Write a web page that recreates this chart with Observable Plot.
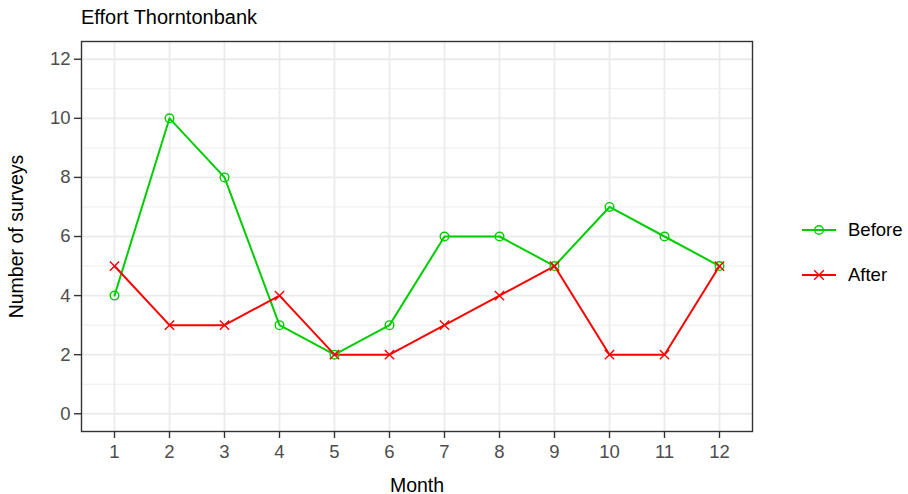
<!DOCTYPE html>
<html>
<head>
<meta charset="utf-8">
<script src="https://cdn.jsdelivr.net/npm/d3@7"></script>
<script src="https://cdn.jsdelivr.net/npm/@observablehq/plot@0.6"></script>
<style>
  html, body { margin: 0; padding: 0; background: #fff; }
  body { font-family: "Liberation Sans", Arial, sans-serif; }
  #wrap { position: relative; width: 908px; height: 494px; overflow: hidden; }
  #title { position: absolute; left: 81px; top: 7px; font-size: 20px; line-height: 20px; color: #000; white-space: nowrap; }
  #legend { position: absolute; left: 800px; top: 208px; }
  .lg-row { display: flex; align-items: center; height: 44.5px; }
  .lg-row svg { display: block; }
  .lg-label { font-size: 18.5px; color: #000; margin-left: 10px; line-height: 20px; }
</style>
</head>
<body>
<div id="wrap">
  <div id="chart"></div>
  <div id="title"></div>
  <div id="legend"></div>
</div>
<script>
// ---- data ----
const titleText = "Effort Thorntonbank";
const xTitle = "Month";
const yTitle = "Number of surveys";
const months = [1, 2, 3, 4, 5, 6, 7, 8, 9, 10, 11, 12];
const before = [4, 10, 8, 3, 2, 3, 6, 6, 5, 7, 6, 5];
const after  = [5, 3, 3, 4, 2, 2, 3, 4, 5, 2, 2, 5];
const seriesNames = ["Before", "After"];
const seriesColors = ["#00CD00", "#FF0000"];
const seriesSymbols = ["circle", "times"];
const yMajorTicks = [0, 2, 4, 6, 8, 10, 12];
const yMinorTicks = [1, 3, 5, 7, 9, 11];

// ---- table ----
const rows = [
  ...months.map((m, i) => ({month: m, value: before[i], series: "Before"})),
  ...months.map((m, i) => ({month: m, value: after[i], series: "After"}))
];

const grid = "#EBEBEB";
const dark = "#333333";
const tickText = "#4D4D4D";

const chart = Plot.plot({
  width: 908,
  height: 494,
  marginLeft: 81,
  marginRight: 156,
  marginTop: 41,
  marginBottom: 63,
  style: {fontFamily: "Liberation Sans, Arial, sans-serif", fontSize: "18px", background: "white", color: tickText},
  x: {domain: [0.4, 12.6]},
  y: {domain: [-0.6, 12.6]},
  color: {domain: seriesNames, range: seriesColors},
  symbol: {domain: seriesNames, range: seriesSymbols},
  marks: [
    Plot.gridY(yMinorTicks, {stroke: grid, strokeOpacity: 1, strokeWidth: 0.9}),
    Plot.gridY(yMajorTicks, {stroke: grid, strokeOpacity: 1, strokeWidth: 1.8}),
    Plot.gridX(months, {stroke: grid, strokeOpacity: 1, strokeWidth: 1.8}),
    Plot.line(rows, {x: "month", y: "value", z: "series", stroke: "series", strokeWidth: 2}),
    Plot.dot(rows, {x: "month", y: "value", stroke: "series", symbol: "series", r: 4.3, strokeWidth: 1.4, fill: "none"}),
    Plot.frame({stroke: dark, strokeWidth: 1.4}),
    Plot.axisY(yMajorTicks, {tickSize: 7, tickPadding: 4, stroke: dark, strokeWidth: 1.4, fill: tickText, fontSize: 18.5, label: null}),
    Plot.axisX(months, {tickSize: 7, tickPadding: 6, stroke: dark, strokeWidth: 1.4, fill: tickText, fontSize: 18.5, label: null}),
    Plot.axisY([], {label: yTitle, labelAnchor: "center", labelArrow: "none", labelOffset: 72, fill: "#000", fontSize: 19.5, tickSize: 0}),
    Plot.axisX([], {label: xTitle, labelAnchor: "center", labelArrow: "none", labelOffset: 60, fill: "#000", fontSize: 19.5, tickSize: 0})
  ]
});
document.getElementById("chart").appendChild(chart);
document.getElementById("title").textContent = titleText;

// ---- legend ----
const legend = document.getElementById("legend");
seriesNames.forEach((name, i) => {
  const row = document.createElement("div");
  row.className = "lg-row";
  const color = seriesColors[i];
  const sym = seriesSymbols[i] === "circle"
    ? `<circle cx="19" cy="11" r="4.3" fill="none" stroke="${color}" stroke-width="1.4"/>`
    : `<path d="M14.2,6.2L23.8,15.8M14.2,15.8L23.8,6.2" stroke="${color}" stroke-width="1.4"/>`;
  row.innerHTML = `<svg width="38" height="22"><line x1="2" y1="11" x2="36" y2="11" stroke="${color}" stroke-width="2"/>${sym}</svg><span class="lg-label">${name}</span>`;
  legend.appendChild(row);
});
</script>
</body>
</html>
